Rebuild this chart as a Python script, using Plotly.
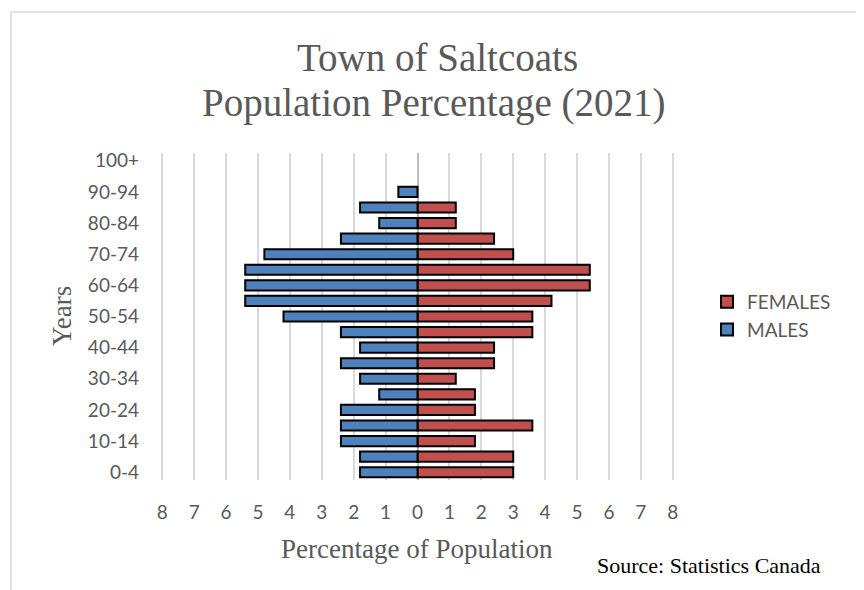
import plotly.graph_objects as go

age_groups = ["0-4", "5-9", "10-14", "15-19", "20-24", "25-29", "30-34", "35-39",
              "40-44", "45-49", "50-54", "55-59", "60-64", "65-69", "70-74",
              "75-79", "80-84", "85-89", "90-94", "95-99", "100+"]
males = [1.8, 1.8, 2.4, 2.4, 2.4, 1.2, 1.8, 2.4, 1.8, 2.4, 4.2, 5.4, 5.4, 5.4, 4.8,
         2.4, 1.2, 1.8, 0.6, 0, 0]
females = [3.0, 3.0, 1.8, 3.6, 1.8, 1.8, 1.2, 2.4, 2.4, 3.6, 3.6, 4.2, 5.4, 5.4, 3.0,
           2.4, 1.2, 1.2, 0, 0, 0]
y_tick_labels = ["0-4", "10-14", "20-24", "30-34", "40-44", "50-54", "60-64",
                 "70-74", "80-84", "90-94", "100+"]
x_ticks = list(range(-8, 9))

W, H = 864, 590
OFF = 8  # page body margin
# plot area in page pixels
PL, PR, PT, PB = 161, 674, 153, 480
L, R, T, B = PL - OFF, PR - OFF, PT - OFF, PB - OFF


def px(x):
    return (x - OFF - L) / (R - L)


def py(y):
    return (B - (y - OFF)) / (B - T)


grey = "#595959"
sans = "Lato, 'Liberation Sans', sans-serif"
serif = "'Liberation Serif', 'DejaVu Serif', serif"

fig = go.Figure()
fig.add_trace(go.Bar(
    y=age_groups, x=[v if v else None for v in females], orientation="h", name="FEMALES",
    marker=dict(color="#C0504D", line=dict(color="black", width=2)),
))
fig.add_trace(go.Bar(
    y=age_groups, x=[-v if v else None for v in males], orientation="h", name="MALES",
    marker=dict(color="#4F81BD", line=dict(color="black", width=2)),
))

fig.update_layout(
    width=W, height=H,
    margin=dict(l=L, r=W - R, t=T, b=H - B, pad=0, autoexpand=False),
    paper_bgcolor="white", plot_bgcolor="white",
    barmode="relative", bargap=0.35,
    showlegend=True,
    legend=dict(x=px(707), y=py(283), xanchor="left", yanchor="top",
                font=dict(family=sans, size=19, color=grey),
                bgcolor="rgba(0,0,0,0)", itemsizing="constant",
                tracegroupgap=0),
    xaxis=dict(range=[-8.04, 8.04], tickvals=x_ticks, ticktext=[str(abs(v)) for v in x_ticks],
               showgrid=True, gridcolor="#D9D9D9", gridwidth=1.5,
               zeroline=True, zerolinecolor="#BFBFBF", zerolinewidth=1.5,
               showline=False, ticks="", ticklabelstandoff=19,
               tickfont=dict(family=sans, size=19, color=grey), fixedrange=True),
    yaxis=dict(type="category", categoryorder="array", categoryarray=age_groups,
               range=[-0.5, len(age_groups) - 0.5],
               tickvals=y_tick_labels, ticktext=y_tick_labels,
               showgrid=False, showline=False, ticks="", ticklabelstandoff=21,
               tickfont=dict(family=sans, size=19, color=grey), fixedrange=True),
)

annotations = [
    dict(text="Town of Saltcoats", x=px(437), y=py(58)),
    dict(text="Population Percentage (2021)", x=px(434), y=py(103)),
]
for a in annotations:
    fig.add_annotation(xref="paper", yref="paper", x=a["x"], y=a["y"], text=a["text"],
                       showarrow=False, xanchor="center", yanchor="middle",
                       font=dict(family=serif, size=39, color=grey))

fig.add_annotation(xref="paper", yref="paper", x=px(417), y=py(549),
                   text="Percentage of Population", showarrow=False,
                   xanchor="center", yanchor="middle",
                   font=dict(family=serif, size=27, color=grey))
fig.add_annotation(xref="paper", yref="paper", x=px(62), y=py(316),
                   text="Years", showarrow=False, textangle=-90,
                   xanchor="center", yanchor="middle",
                   font=dict(family=serif, size=27, color=grey))
fig.add_annotation(xref="paper", yref="paper", x=px(709), y=py(565),
                   text="Source: Statistics Canada", showarrow=False,
                   xanchor="center", yanchor="middle",
                   font=dict(family=serif, size=22, color="black"))

fig.add_shape(type="rect", xref="paper", yref="paper",
              x0=px(11), x1=px(858), y0=py(640), y1=py(12),
              line=dict(color="#D9D9D9", width=1.5), fillcolor="rgba(0,0,0,0)",
              layer="below")

fig.write_html("out.html")
